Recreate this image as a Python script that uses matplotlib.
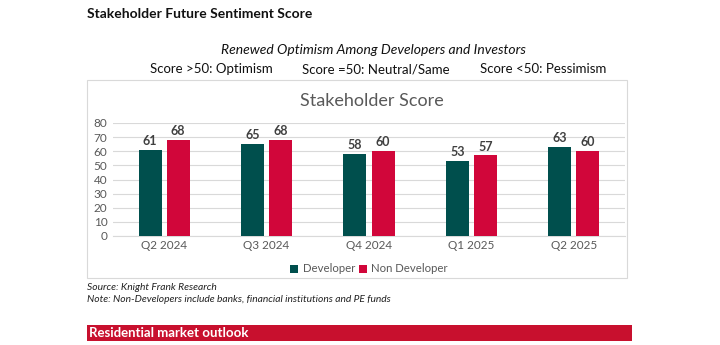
import numpy as np
import matplotlib
matplotlib.use('Agg')
import matplotlib.pyplot as plt
import matplotlib.patches as mpatches

plt.rcParams['font.family'] = ['Lato', 'DejaVu Sans']

# Data
# ----------------------------------------------
quarters = ['Q2 2024', 'Q3 2024', 'Q4 2024', 'Q1 2025', 'Q2 2025']
developer = [61, 65, 58, 53, 63]
non_developer = [68, 68, 60, 57, 60]
yticks = [0, 10, 20, 30, 40, 50, 60, 70, 80]
legend_notes = ['Score >50: Optimism', 'Score =50: Neutral/Same', 'Score <50: Pessimism']

dev_color = '#004f4d'
nondev_color = '#d1063a'
text_gray = '#595959'

fig = plt.figure(figsize=(7.2, 3.45), dpi=100)
fig.patch.set_facecolor('white')

# Header texts
fig.text(87 / 720, 1 - 14 / 345, 'Stakeholder Future Sentiment Score',
         fontsize=10, fontweight='bold', va='center', ha='left', color='#111111')
fig.text(373 / 720, 1 - 50 / 345, 'Renewed Optimism Among Developers and Investors',
         fontsize=10, style='italic', va='center', ha='center', color='#111111')
for xpos, note in zip([150, 302, 480], legend_notes):
    fig.text(xpos / 720, 1 - 69 / 345, note, fontsize=9.5, va='center',
             ha='left', color='#111111')

# Chart frame
fig.add_artist(mpatches.Rectangle((87 / 720, 1 - 278 / 345), 540 / 720, 198 / 345,
                                  transform=fig.transFigure, fc='none',
                                  ec='#d9d9d9', lw=0.8))
fig.text(372 / 720, 1 - 101 / 345, 'Stakeholder Score', fontsize=13,
         va='center', ha='center', color=text_gray)

# Bars
# ----------------------------------------------
ax = fig.add_axes([113 / 720, 1 - 236 / 345, 512 / 720, 113 / 345])
x = np.arange(len(quarters))
w = 0.225
off = 0.137
b1 = ax.bar(x - off, developer, w, color=dev_color, label='Developer', zorder=3)
b2 = ax.bar(x + off, non_developer, w, color=nondev_color, label='Non Developer', zorder=3)

for bars, vals in [(b1, developer), (b2, non_developer)]:
    for rect, v in zip(bars, vals):
        ax.text(rect.get_x() + rect.get_width() / 2, v + 2, str(v),
                ha='center', va='bottom', fontsize=9, fontweight='bold',
                color='#404040')

ax.set_xlim(-0.5, len(quarters) - 0.5)
ax.set_ylim(0, 80)
ax.set_yticks(yticks)
ax.set_xticks(x)
ax.set_xticklabels(quarters)
ax.tick_params(axis='both', length=0, labelsize=8.5, colors=text_gray)
ax.tick_params(axis='y', pad=4)
ax.tick_params(axis='x', pad=3)
ax.grid(axis='y', color='#d9d9d9', lw=0.8, zorder=0)
for s in ['top', 'right', 'left']:
    ax.spines[s].set_visible(False)
ax.spines['bottom'].set_color('#d9d9d9')

leg = fig.legend(handles=[b1, b2], loc='center', bbox_to_anchor=(369 / 720, 1 - 269 / 345),
                 ncol=2, frameon=False, fontsize=8.2, handlelength=0.7,
                 handleheight=0.7, handletextpad=0.4, columnspacing=0.3)
for t in leg.get_texts():
    t.set_color(text_gray)

# Footnotes
fig.text(87 / 720, 1 - 287 / 345, 'Source: Knight Frank Research', fontsize=7.4,
         style='italic', va='center', ha='left', color='#222222')
fig.text(87 / 720, 1 - 299 / 345,
         'Note: Non-Developers include banks, financial institutions and PE funds',
         fontsize=7.4, style='italic', va='center', ha='left', color='#222222')

# Banner
fig.add_artist(mpatches.Rectangle((87 / 720, 1 - 341 / 345), 545 / 720, 16 / 345,
                                  transform=fig.transFigure, fc='#c8102e', ec='none'))
fig.text(89 / 720, 1 - 333 / 345, 'Residential market outlook', fontsize=9.5,
         fontweight='bold', va='center', ha='left', color='white')

fig.savefig('out.png', dpi=100)
